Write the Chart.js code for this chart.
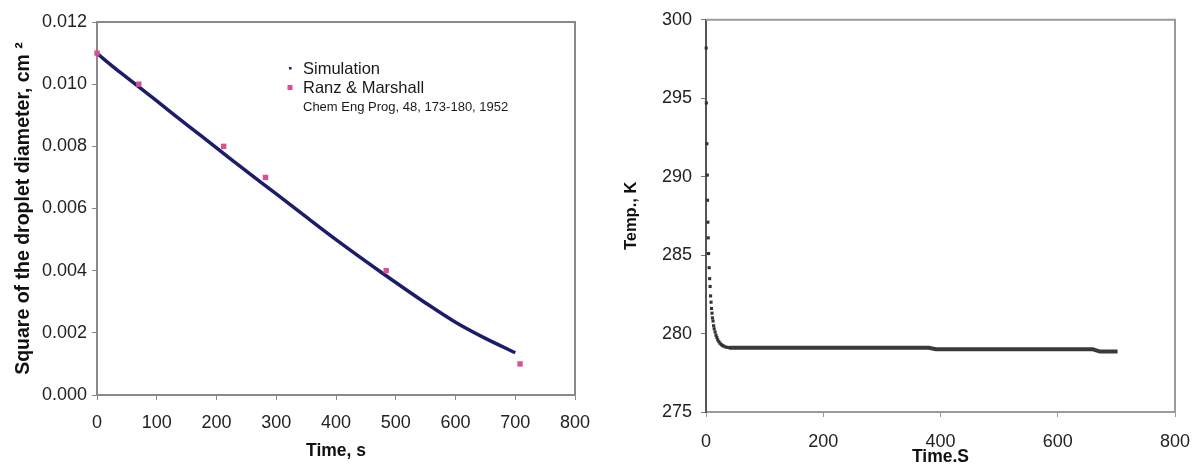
<!DOCTYPE html>
<html>
<head>
<meta charset="utf-8">
<script src="https://cdn.jsdelivr.net/npm/chart.js@4/dist/chart.umd.min.js"></script>
<style>
  html, body { margin: 0; padding: 0; background: #fff; overflow: hidden; }
  .panel { position: absolute; top: 0; height: 468px; }
  #left-panel { left: 0; width: 600px; }
  #right-panel { left: 600px; width: 593px; }
</style>
</head>
<body>
<div class="panel" id="left-panel"><canvas id="chart-diameter"></canvas></div>
<div class="panel" id="right-panel"><canvas id="chart-temp"></canvas></div>
<script>
// droplet diameter squared vs time (simulation curve)
const simTime = [0, 10, 20, 40, 70, 100, 150, 200, 250, 300, 350, 400, 450, 500, 550, 600, 650, 700];
const simD2 = [0.01100, 0.01083, 0.01067, 0.01036, 0.00991, 0.00946, 0.00870, 0.00795, 0.00720,
  0.00647, 0.00573, 0.00500, 0.00430, 0.00362, 0.00296, 0.00234, 0.00182, 0.00136];

// Ranz & Marshall experimental points
const ranzTime = [0, 70, 212, 282, 484, 708];
const ranzD2 = [0.011, 0.010, 0.008, 0.007, 0.004, 0.001];

// droplet temperature, initial cooling
const tempTime = [0.3, 0.6, 1.5, 2.2, 2.6, 3.2, 3.8, 4.4, 5.4, 6.2, 7.0, 7.8, 8.6, 9.4, 10.2, 11.0,
  12, 13, 14, 15.5, 17, 18.5, 20, 22, 24, 26, 28, 30, 33, 36, 40];
const tempK = [298.2, 294.7, 292.1, 290.1, 288.5, 287.1, 286.1, 285.1, 284.2, 283.5, 283.0, 282.4,
  282.0, 281.6, 281.3, 281.0, 280.8, 280.5, 280.3, 280.1, 279.9, 279.75, 279.6, 279.48, 279.38,
  279.3, 279.24, 279.2, 279.15, 279.12, 279.1];

// temperature plateau (dense points, drawn as a thick trace)
const plateauTime = [40, 380, 392, 660, 672, 702];
const plateauK = [279.1, 279.1, 279.0, 279.0, 278.85, 278.85];

const diamTicks = [0, 0.002, 0.004, 0.006, 0.008, 0.010, 0.012];
const tempTicks = [275, 280, 285, 290, 295, 300];

const FONT = '"Liberation Sans", Arial, sans-serif';
const AXIS_GRAY = '#8a8a8a';

Chart.defaults.font.family = FONT;
Chart.defaults.color = '#222';

const toXY = (xs, ys) => xs.map((x, i) => ({ x, y: ys[i] }));

// box round the plot area
const frame = {
  id: 'frame',
  afterDatasetsDraw(chart, args, opts) {
    const { ctx, chartArea: a } = chart;
    ctx.save();
    ctx.strokeStyle = opts.color;
    ctx.lineWidth = 2;
    ctx.beginPath();
    ctx.moveTo(a.left, a.top);
    ctx.lineTo(a.right, a.top);
    ctx.lineTo(a.right, a.bottom);
    ctx.stroke();
    ctx.restore();
  },
};

// legend sitting inside the plot
const innerLegend = {
  id: 'innerLegend',
  afterDraw(chart) {
    const { ctx, chartArea: a } = chart;
    const x = a.left + 193;
    const y = a.top + 46;
    ctx.save();
    ctx.fillStyle = '#1c1c6b';
    ctx.fillRect(x - 1, y - 1, 2.5, 2.5);
    ctx.fillStyle = '#dc4f96';
    ctx.fillRect(x - 2.5, y + 17, 5, 5);
    ctx.fillStyle = '#1a1a1a';
    ctx.textBaseline = 'middle';
    ctx.font = '16.5px ' + FONT;
    ctx.fillText('Simulation', x + 13, y + 1);
    ctx.fillText('Ranz & Marshall', x + 13, y + 20);
    ctx.font = '13px ' + FONT;
    ctx.fillText('Chem Eng Prog, 48, 173-180, 1952', x + 13, y + 39);
    ctx.restore();
  },
};

function axisFont(size, bold) {
  return { family: FONT, size, weight: bold ? 'bold' : 'normal' };
}

// keep the end labels from pushing the plot area inwards
function noSidePadding(scale) {
  scale.paddingLeft = 0;
  scale.paddingRight = 0;
}

new Chart(document.getElementById('chart-diameter'), {
  type: 'scatter',
  data: {
    datasets: [
      {
        label: 'Simulation',
        data: toXY(simTime, simD2),
        showLine: true,
        borderColor: '#1c1c6b',
        borderWidth: 3.5,
        pointRadius: 0,
        tension: 0.3,
        order: 2,
      },
      {
        label: 'Ranz & Marshall',
        data: toXY(ranzTime, ranzD2),
        pointStyle: 'rect',
        pointRadius: 3.8,
        backgroundColor: '#dc4f96',
        borderColor: '#dc4f96',
        borderWidth: 0,
        order: 1,
      },
    ],
  },
  options: {
    responsive: true,
    maintainAspectRatio: false,
    animation: false,
    layout: { padding: { top: 22, right: 25, left: 0, bottom: 0 } },
    plugins: {
      legend: { display: false },
      tooltip: { enabled: false },
      frame: { color: AXIS_GRAY },
    },
    scales: {
      x: {
        type: 'linear',
        min: 0,
        max: 800,
        afterFit(scale) { scale.height = 73; noSidePadding(scale); },
        border: { color: AXIS_GRAY, width: 2 },
        grid: { drawOnChartArea: false, tickLength: 5, color: AXIS_GRAY },
        ticks: { stepSize: 100, padding: 12, font: axisFont(18) },
        title: { display: true, text: 'Time, s', font: axisFont(17.5, true), color: '#111', padding: { top: 0, bottom: 6 } },
      },
      y: {
        type: 'linear',
        min: 0,
        max: 0.012,
        afterFit(scale) { scale.width = 97; },
        afterBuildTicks(scale) { scale.ticks = diamTicks.map(v => ({ value: v })); },
        border: { color: AXIS_GRAY, width: 2 },
        grid: { drawOnChartArea: false, tickLength: 5, color: AXIS_GRAY },
        ticks: { padding: 5, font: axisFont(18), callback: v => v.toFixed(3) },
        title: { display: true, text: 'Square of the droplet diameter, cm ²', font: axisFont(19.5, true), color: '#111', padding: { top: 12, bottom: 0 } },
      },
    },
    clip: false,
  },
  plugins: [frame, innerLegend],
});

new Chart(document.getElementById('chart-temp'), {
  type: 'scatter',
  data: {
    datasets: [
      {
        label: 'Temp',
        data: toXY(tempTime, tempK),
        pointStyle: 'rect',
        pointRadius: 2.2,
        backgroundColor: '#333',
        borderWidth: 0,
      },
      {
        label: 'Temp plateau',
        data: toXY(plateauTime, plateauK),
        showLine: true,
        borderColor: '#3a3a3a',
        borderWidth: 4,
        pointRadius: 0,
      },
    ],
  },
  options: {
    responsive: true,
    maintainAspectRatio: false,
    animation: false,
    layout: { padding: { top: 19, right: 18, left: 0, bottom: 0 } },
    plugins: {
      legend: { display: false },
      tooltip: { enabled: false },
      frame: { color: '#9a9a9a' },
    },
    scales: {
      x: {
        type: 'linear',
        min: 0,
        max: 800,
        afterFit(scale) { scale.height = 56; noSidePadding(scale); },
        border: { color: '#9a9a9a', width: 2 },
        grid: { drawOnChartArea: false, tickLength: 5, color: '#9a9a9a' },
        ticks: { stepSize: 200, padding: 14, font: axisFont(18) },
        title: { display: true, text: 'Time.S', font: axisFont(17.5, true), color: '#111', padding: { top: 0, bottom: 0 } },
      },
      y: {
        type: 'linear',
        min: 275,
        max: 300,
        afterFit(scale) { scale.width = 106; },
        afterBuildTicks(scale) { scale.ticks = tempTicks.map(v => ({ value: v })); },
        border: { color: '#555', width: 2 },
        grid: { drawOnChartArea: false, tickLength: 5, color: '#777' },
        ticks: { padding: 9, font: axisFont(18) },
        title: { display: true, text: 'Temp., K', font: axisFont(16.5, true), color: '#111', padding: { top: 22, bottom: 0 } },
      },
    },
    clip: false,
  },
  plugins: [frame],
});
</script>
</body>
</html>
